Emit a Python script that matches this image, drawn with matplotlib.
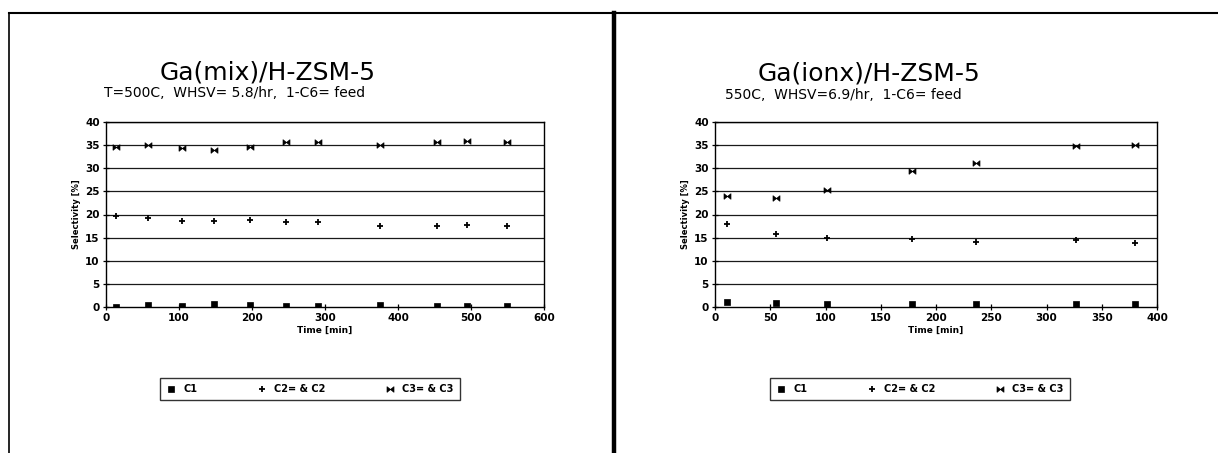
import matplotlib
matplotlib.use("Agg")
import matplotlib.pyplot as plt
from matplotlib.lines import Line2D
from matplotlib.path import Path

# Ga(mix)/H-ZSM-5, 500C
mix_time = [14, 58, 104, 148, 197, 247, 291, 376, 453, 495, 549]
mix_c1 = [0.1, 0.4, 0.3, 0.6, 0.5, 0.2, 0.3, 0.4, 0.3, 0.3, 0.3]
mix_c2 = [19.7, 19.2, 18.5, 18.6, 18.8, 18.4, 18.3, 17.6, 17.6, 17.8, 17.6]
mix_c3 = [34.6, 35.0, 34.3, 34.0, 34.5, 35.6, 35.6, 35.1, 35.7, 35.9, 35.7]

# Ga(ionx)/H-ZSM-5, 550C
ionx_time = [11, 55, 101, 178, 236, 327, 380]
ionx_c1 = [1.0, 0.9, 0.65, 0.6, 0.6, 0.65, 0.65]
ionx_c2 = [17.9, 15.8, 14.9, 14.7, 14.0, 14.5, 13.8]
ionx_c3 = [24.0, 23.6, 25.3, 29.5, 31.1, 34.8, 35.1]

series_labels = ["C1", "C2= & C2", "C3= & C3"]

# bowtie marker used for C3
bowtie = Path([(-1, -0.8), (-1, 0.8), (0, 0), (1, 0.8), (1, -0.8), (0, 0), (-1, -0.8)])

styles = [
    dict(marker="s", markersize=4.5, mew=0.5),
    dict(marker="+", markersize=5, mew=1.3),
    dict(marker=bowtie, markersize=5, mew=0.5),
]

plt.rcParams["font.family"] = "DejaVu Sans"

W, H = 1218, 453
fig = plt.figure(figsize=(W / 100, H / 100), dpi=100)

# panel frame lines
fig.add_artist(Line2D([9 / W, 1], [1 - 13 / H] * 2, color="black", lw=1.5))
fig.add_artist(Line2D([9 / W] * 2, [0, 1 - 13 / H], color="black", lw=1.2))
fig.add_artist(Line2D([614 / W] * 2, [0, 1 - 13 / H], color="black", lw=3.2))


def draw_panel(x0, x1, times, c1, c2, c3, xmax, xstep, title, subtitle, tpos, spos, legx):
    ax = fig.add_axes([x0 / W, 1 - 307 / H, (x1 - x0) / W, 185 / H])
    for vals, st in zip([c1, c2, c3], styles):
        ax.plot(times, vals, ls="none", color="black", mfc="black", mec="black", **st)
    ax.set_xlim(0, xmax)
    ax.set_ylim(0, 40)
    ax.set_xticks(range(0, xmax + 1, xstep))
    ax.set_yticks(range(0, 41, 5))
    for y in range(5, 41, 5):
        ax.axhline(y, color="#1a1a1a", lw=0.9, zorder=0)
    for s in ax.spines.values():
        s.set_linewidth(1.0)
    ax.tick_params(direction="inout", length=5, width=0.9, labelsize=7.5, pad=2)
    for lab in ax.get_xticklabels() + ax.get_yticklabels():
        lab.set_fontweight("bold")
    ax.set_xlabel("Time [min]", fontsize=6.5, fontweight="bold", labelpad=2)
    ax.set_ylabel("Selectivity [%]", fontsize=6, fontweight="bold", labelpad=3)
    fig.text(tpos[0] / W, 1 - tpos[1] / H, title, fontsize=18, ha="left", va="center")
    fig.text(spos[0] / W, 1 - spos[1] / H, subtitle, fontsize=10, ha="left", va="center")
    handles = [Line2D([], [], ls="none", color="black", mfc="black", mec="black", **st)
               for st in styles]
    leg = fig.legend(handles, series_labels, loc="center", bbox_to_anchor=(legx / W, 1 - 389 / H),
                     ncol=3, fontsize=7, frameon=True, fancybox=False, edgecolor="black",
                     handlelength=1.0, handletextpad=0.7, columnspacing=6.2,
                     borderpad=0.65)
    leg.get_frame().set_linewidth(1.0)
    for t in leg.get_texts():
        t.set_fontweight("bold")
    return ax


draw_panel(106, 544, mix_time, mix_c1, mix_c2, mix_c3, 600, 100,
           "Ga(mix)/H-ZSM-5", "T=500C,  WHSV= 5.8/hr,  1-C6= feed",
           (160, 73), (104, 93), 310)

draw_panel(715, 1157, ionx_time, ionx_c1, ionx_c2, ionx_c3, 400, 50,
           "Ga(ionx)/H-ZSM-5", "550C,  WHSV=6.9/hr,  1-C6= feed",
           (758, 74), (725, 95), 920)

fig.savefig("out.png", dpi=100)
